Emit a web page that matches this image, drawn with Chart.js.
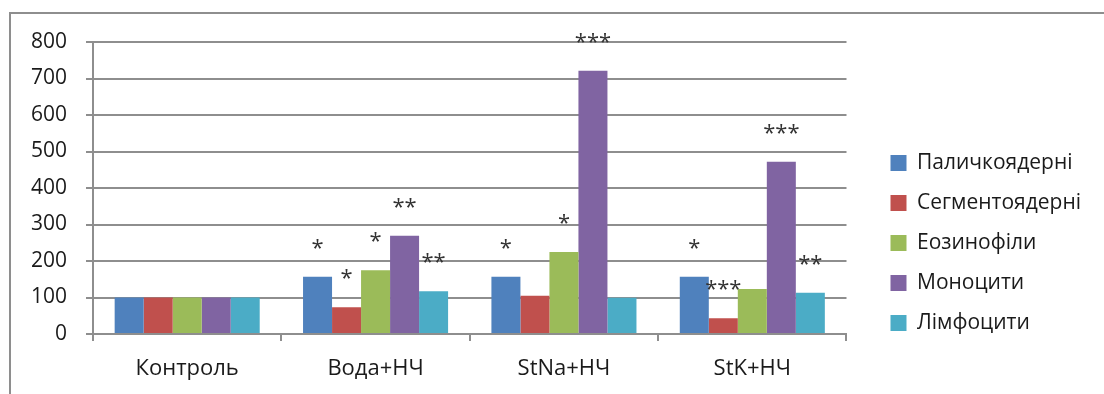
<!DOCTYPE html>
<html>
<head>
<meta charset="utf-8">
<script src="https://cdn.jsdelivr.net/npm/chart.js@4"></script>
<style>
  html, body { margin: 0; padding: 0; background: #fff; }
  #wrap { position: relative; width: 1104px; height: 394px; overflow: hidden; }
  #frame { position: absolute; left: 9px; top: 12px; width: 1200px; height: 500px; border: 2px solid #8e8e8e; }
  #chart { position: absolute; left: 0; top: 0; }
</style>
</head>
<body>
<div id="wrap">
  <div id="frame"></div>
  <canvas id="chart" width="1104" height="394"></canvas>
</div>
<script>
const categories = ["Контроль", "Вода+НЧ", "StNa+НЧ", "StK+НЧ"];
const seriesNames = ["Паличкоядерні", "Сегментоядерні", "Еозинофіли", "Моноцити", "Лімфоцити"];

const palValues = [100, 157, 157, 157];
const segValues = [100, 73, 105, 43];
const eozValues = [100, 175, 225, 123];
const monoValues = [100, 269, 721, 472];
const limfValues = [100, 117, 99, 113];

// significance marks above bars
const palStars = ["", "*", "*", "*"];
const segStars = ["", "*", "", "***"];
const eozStars = ["", "*", "*", ""];
const monoStars = ["", "**", "***", "***"];
const limfStars = ["", "**", "", "**"];

const yTicks = [0, 100, 200, 300, 400, 500, 600, 700, 800];

const colors = ["#4F81BD", "#C0504D", "#9BBB59", "#8064A2", "#4BACC6"];
const values = [palValues, segValues, eozValues, monoValues, limfValues];
const stars = [palStars, segStars, eozStars, monoStars, limfStars];

const FONT = "'Open Sans', sans-serif";
const GRID = "#8e8e8e";

const starsPlugin = {
  id: "stars",
  afterDatasetsDraw(chart) {
    const ctx = chart.ctx;
    ctx.save();
    ctx.font = "22px " + FONT;
    ctx.fillStyle = "#333";
    ctx.textAlign = "center";
    ctx.textBaseline = "alphabetic";
    chart.data.datasets.forEach((ds, i) => {
      chart.getDatasetMeta(i).data.forEach((bar, j) => {
        const s = stars[i][j];
        if (s) ctx.fillText(s, bar.x, bar.y - 22);
      });
    });
    ctx.restore();
  },
};

new Chart(document.getElementById("chart"), {
  type: "bar",
  data: {
    labels: categories,
    datasets: seriesNames.map((name, i) => ({
      label: name,
      data: values[i],
      backgroundColor: colors[i],
      borderWidth: 0,
      categoryPercentage: 0.77,
      barPercentage: 1.0,
    })),
  },
  options: {
    responsive: false,
    animation: false,
    layout: { padding: { top: 42, right: 13, bottom: 0, left: 0 } },
    plugins: {
      tooltip: { enabled: false },
      legend: {
        position: "right",
        maxWidth: 320,
        title: { display: true, text: "", font: { size: 10 }, padding: { top: 38, bottom: 0 } },
        labels: {
          boxWidth: 16,
          boxHeight: 16,
          padding: 19,
          color: "#1a1a1a",
          font: { family: FONT, size: 21 },
        },
      },
    },
    scales: {
      x: {
        grid: { drawOnChartArea: false, drawTicks: true, tickLength: 7, color: GRID, lineWidth: 2 },
        border: { color: GRID, width: 2 },
        ticks: { color: "#1a1a1a", font: { family: FONT, size: 22 }, padding: 15 },
        afterFit: (s) => { s.height = 60; },
      },
      y: {
        min: 0,
        max: 800,
        afterBuildTicks: (s) => { s.ticks = yTicks.map((v) => ({ value: v })); },
        grid: { color: GRID, lineWidth: 2, tickLength: 7 },
        border: { color: GRID, width: 2 },
        ticks: { color: "#1a1a1a", font: { family: FONT, size: 21 }, padding: 19 },
        afterFit: (s) => { s.width = 93; },
      },
      gap: {
        type: "linear",
        position: "right",
        display: true,
        grid: { display: false },
        border: { display: false },
        ticks: { display: false },
        afterFit: (s) => { s.width = 25; },
      },
    },
  },
  plugins: [starsPlugin],
});
</script>
</body>
</html>
